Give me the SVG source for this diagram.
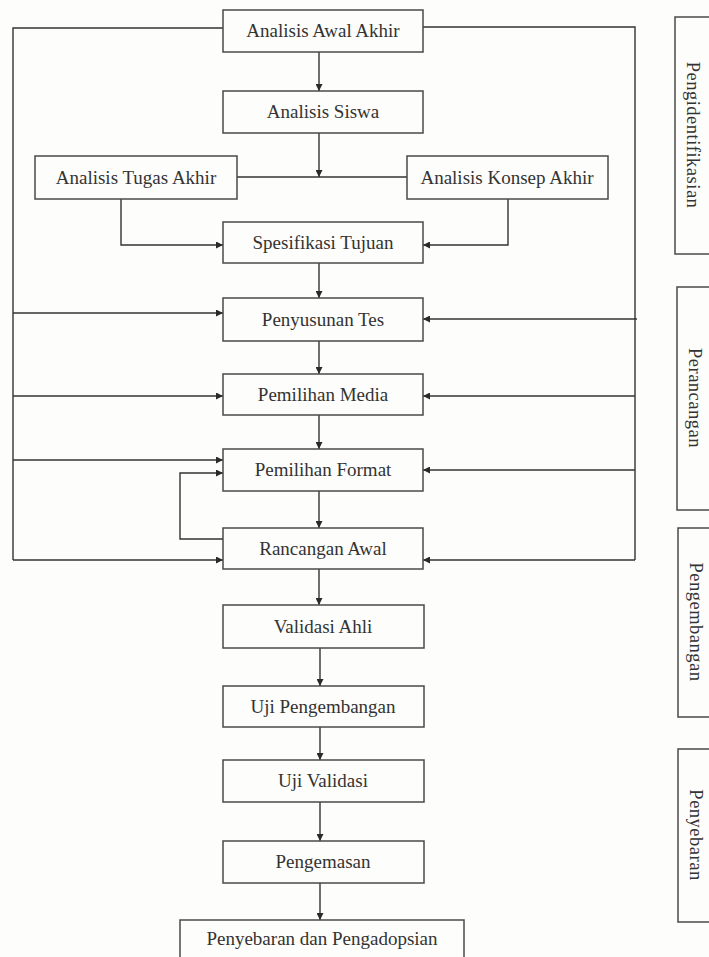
<svg xmlns="http://www.w3.org/2000/svg" width="709" height="957" viewBox="0 0 709 957">
<defs>
<marker id="ah" viewBox="0 0 10 10" refX="10" refY="5" markerWidth="8" markerHeight="7" markerUnits="userSpaceOnUse" orient="auto">
<path d="M0,0 L10,5 L0,10 z" fill="#2a2a2a"/>
</marker>
<style>
.box{fill:#fdfdfb;stroke:#4a4a4a;stroke-width:1.5}
.lbl{font-family:'Liberation Serif','DejaVu Serif',serif;font-size:19px;fill:#333;text-anchor:middle}
.vlbl{font-family:'Liberation Serif','DejaVu Serif',serif;font-size:18.5px;fill:#333;text-anchor:middle;letter-spacing:0.5px}
.ln{fill:none;stroke:#333;stroke-width:1.4}
.ar{fill:none;stroke:#333;stroke-width:1.4;marker-end:url(#ah)}
</style>
</defs>
<rect x="0" y="0" width="709" height="957" fill="#fdfdfb"/>

<g id="connectors">
<path class="ar" d="M319,52 V91"/>
<path class="ar" d="M319,133 V177"/>
<path class="ln" d="M237,177 H407"/>
<path class="ar" d="M121,199 V245 H223"/>
<path class="ar" d="M508,199 V245 H423"/>
<path class="ar" d="M319,263 V298"/>
<path class="ar" d="M319,341 V374"/>
<path class="ar" d="M319,415 V449"/>
<path class="ar" d="M319,491 V528"/>
<path class="ar" d="M319,569 V605"/>
<path class="ar" d="M320,648 V686"/>
<path class="ar" d="M320,727 V760"/>
<path class="ar" d="M320,802 V841"/>
<path class="ar" d="M320,883 V920"/>
<path class="ln" d="M223,28 H13 V560"/>
<path class="ar" d="M13,313 H223"/>
<path class="ar" d="M13,396 H223"/>
<path class="ar" d="M13,460 H223"/>
<path class="ar" d="M13,560 H223"/>
<path class="ln" d="M423,27 H635 V560"/>
<path class="ar" d="M637,319 H423"/>
<path class="ar" d="M635,396 H423"/>
<path class="ar" d="M635,470 H423"/>
<path class="ar" d="M635,560 H423"/>
<path class="ar" d="M223,539 H180 V473 H223"/>
</g>

<g id="n-awal"><rect class="box" x="223" y="10" width="200" height="42"/><text class="lbl" x="323" y="37">Analisis Awal Akhir</text></g>
<g id="n-siswa"><rect class="box" x="223" y="91" width="200" height="42"/><text class="lbl" x="323" y="118">Analisis Siswa</text></g>
<g id="n-tugas"><rect class="box" x="35" y="156" width="202" height="43"/><text class="lbl" x="136" y="184">Analisis Tugas Akhir</text></g>
<g id="n-konsep"><rect class="box" x="407" y="156" width="201" height="43"/><text class="lbl" x="507" y="184">Analisis Konsep Akhir</text></g>
<g id="n-spesifikasi"><rect class="box" x="223" y="222" width="200" height="41"/><text class="lbl" x="323" y="249">Spesifikasi Tujuan</text></g>
<g id="n-penyusunan"><rect class="box" x="223" y="298" width="200" height="43"/><text class="lbl" x="323" y="326">Penyusunan Tes</text></g>
<g id="n-media"><rect class="box" x="223" y="374" width="200" height="41"/><text class="lbl" x="323" y="401">Pemilihan Media</text></g>
<g id="n-format"><rect class="box" x="223" y="449" width="200" height="42"/><text class="lbl" x="323" y="476">Pemilihan Format</text></g>
<g id="n-rancangan"><rect class="box" x="223" y="528" width="200" height="41"/><text class="lbl" x="323" y="555">Rancangan Awal</text></g>
<g id="n-validasi"><rect class="box" x="223" y="605" width="201" height="43"/><text class="lbl" x="323" y="633">Validasi Ahli</text></g>
<g id="n-ujipeng"><rect class="box" x="223" y="686" width="201" height="41"/><text class="lbl" x="323" y="713">Uji Pengembangan</text></g>
<g id="n-ujival"><rect class="box" x="223" y="760" width="201" height="42"/><text class="lbl" x="323" y="787">Uji Validasi</text></g>
<g id="n-pengemasan"><rect class="box" x="223" y="841" width="201" height="42"/><text class="lbl" x="323" y="868">Pengemasan</text></g>
<g id="n-penyebaran"><rect class="box" x="180" y="920" width="284" height="60"/><text class="lbl" x="322" y="945">Penyebaran dan Pengadopsian</text></g>

<g id="s-pengidentifikasian"><rect class="box" x="675" y="17" width="60" height="237"/><text class="vlbl" transform="translate(687,135) rotate(90)">Pengidentifikasian</text></g>
<g id="s-perancangan"><rect class="box" x="677" y="287" width="60" height="223"/><text class="vlbl" transform="translate(689,398) rotate(90)">Perancangan</text></g>
<g id="s-pengembangan"><rect class="box" x="678" y="528" width="60" height="189"/><text class="vlbl" transform="translate(690,622) rotate(90)">Pengembangan</text></g>
<g id="s-penyebaran"><rect class="box" x="678" y="749" width="60" height="173"/><text class="vlbl" transform="translate(690,835) rotate(90)">Penyebaran</text></g>
</svg>
